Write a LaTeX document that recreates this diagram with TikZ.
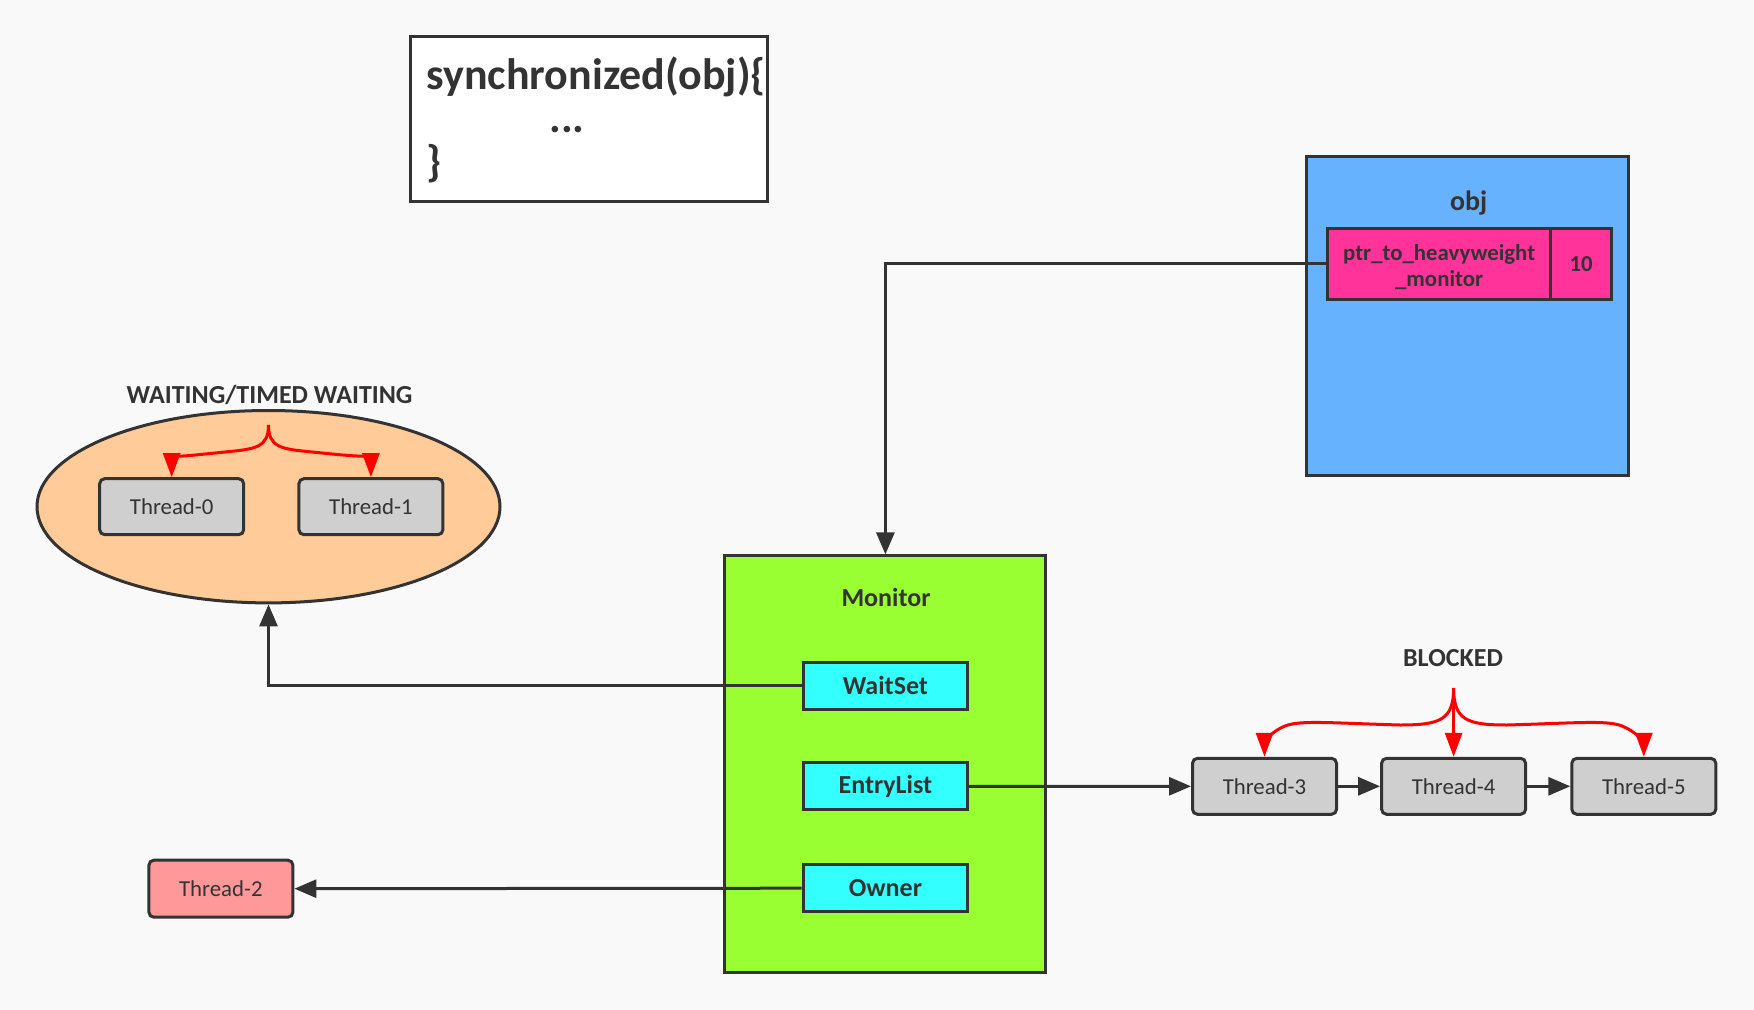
\documentclass[tikz,border=0pt]{standalone}
\usepackage{fontspec}
\setmainfont{Carlito}
\usetikzlibrary{arrows.meta,shapes.geometric}
\definecolor{bgc}{HTML}{F9F9F9}
\definecolor{ink}{HTML}{333333}
\definecolor{threadc}{HTML}{CFCFCF}
\definecolor{ellc}{HTML}{FFCC99}
\definecolor{objc}{HTML}{66B2FF}
\definecolor{ptrc}{HTML}{FF3399}
\definecolor{monc}{HTML}{99FF33}
\definecolor{cyanc}{HTML}{33FFFF}
\definecolor{t2c}{HTML}{FF9999}
\definecolor{redc}{HTML}{FF0000}
\tikzset{
  box/.style={draw=ink, line width=1.5pt, inner sep=0pt, text=ink},
  thread/.style={box, fill=threadc, rounded corners=2.5pt, minimum width=72pt, minimum height=28pt, font=\fontsize{11.4}{13}\selectfont},
  inbox/.style={box, fill=cyanc, minimum width=82.2pt, minimum height=23.5pt, font=\fontsize{13}{15}\selectfont\bfseries},
  lbl/.style={text=ink, font=\fontsize{13}{15}\selectfont\bfseries, inner sep=0pt},
  arr/.style={draw=ink, line width=1.5pt, -{Triangle[length=11pt,width=9pt]}},
  rarr/.style={draw=redc, line width=1.5pt, -{Triangle[length=12pt,width=8.5pt]}},
}
\begin{document}
\begin{tikzpicture}[x=0.5pt,y=-0.5pt]
\fill[bgc] (0,0) rectangle (1754,1010);
\useasboundingbox (0,0) rectangle (1754,1010);

% synchronized block
\node[box, fill=white, minimum width=178.5pt, minimum height=82.2pt] (sync) at (589,119.1) {};
\node[anchor=base west, inner sep=0pt, text=ink, font=\fontsize{22}{26}\selectfont\bfseries] (s1) at (426,89.5) {synchronized(obj)\{};
\node[anchor=base west, inner sep=0pt, text=ink, font=\fontsize{22}{26}\selectfont\bfseries] (s2) at (549,133) {...};
\node[anchor=base west, inner sep=0pt, text=ink, font=\fontsize{22}{26}\selectfont\bfseries] (s3) at (426,177) {\}};

% obj
\node[box, fill=objc, minimum width=161.1pt, minimum height=159.4pt] (obj) at (1467.6,316) {};
\node[lbl, font=\fontsize{14}{16}\selectfont\bfseries] (objl) at (1468.7,203) {obj};
\node[box, fill=ptrc, minimum width=111.3pt, minimum height=35.8pt, align=center, font=\fontsize{11.4}{11.6}\selectfont\bfseries, text depth=0pt] (ptr) at (1439.1,264) {\raisebox{-1.5pt}{\shortstack{ptr\_to\_heavyweight\\\_monitor}}};
\node[box, fill=ptrc, minimum width=30.75pt, minimum height=35.8pt, font=\fontsize{11.4}{13}\selectfont\bfseries] (ten) at (1581.2,264) {10};

% Monitor
\node[box, fill=monc, minimum width=160.5pt, minimum height=208.1pt] (mon) at (885.4,764) {};
\node[lbl] (monl) at (886,597.3) {Monitor};
\node[inbox] (ws) at (885.4,685.7) {WaitSet};
\node[inbox] (el) at (885.4,786.4) {EntryList};
\node[inbox] (ow) at (885.4,888.2) {Owner};

% waiting ellipse
\node[lbl] (wl) at (269.6,394.9) {WAITING/TIMED WAITING};
\node[ellipse, draw=ink, line width=1.5pt, fill=ellc, minimum width=231.5pt, minimum height=96.2pt, inner sep=0pt] (ell) at (268.5,506.7) {};
\node[thread] (t0) at (171.7,506.7) {Thread-0};
\node[thread] (t1) at (370.9,506.7) {Thread-1};

% Thread-2
\node[thread, fill=t2c, minimum height=28.5pt] (t2) at (220.9,888.7) {Thread-2};

% blocked
\node[lbl] (bl) at (1453,657.7) {BLOCKED};
\node[thread] (t3) at (1264.5,786.3) {Thread-3};
\node[thread] (t4) at (1453.6,786.3) {Thread-4};
\node[thread] (t5) at (1643.8,786.3) {Thread-5};

\coordinate (wtop) at (268.5,425);
\coordinate (btop) at (1453.6,688);

% connectors
\draw[arr] (ptr.west) -| (mon.north);
\draw[arr] (ws.west) -| (ell.south);
\draw[arr] (el.east) -- (t3.west);
\draw[arr] (t3.east) -- (t4.west);
\draw[arr] (t4.east) -- (t5.west);
\draw[arr] (ow.west) -- (t2.east);

% red braces
\draw[rarr] (wtop) .. controls (268.5,448) and (255,449) .. (225,452) .. controls (185,456) and (171.7,458) .. (t0.north);
\draw[rarr] (wtop) .. controls (268.5,448) and (282,449) .. (312,452) .. controls (352,456) and (370.9,458) .. (t1.north);
\draw[rarr] (btop) .. controls (1453.6,720) and (1440,725) .. (1400,725) .. controls (1330,723) and (1300,720) .. (1285,726) .. controls (1268,733) and (1264.5,745) .. (t3.north);
\draw[rarr] (btop) .. controls (1453.6,720) and (1467,725) .. (1507,725) .. controls (1577,723) and (1607,720) .. (1622,726) .. controls (1639,733) and (1643.8,745) .. (t5.north);
\draw[rarr] (btop) -- (t4.north);
\end{tikzpicture}
\end{document}
